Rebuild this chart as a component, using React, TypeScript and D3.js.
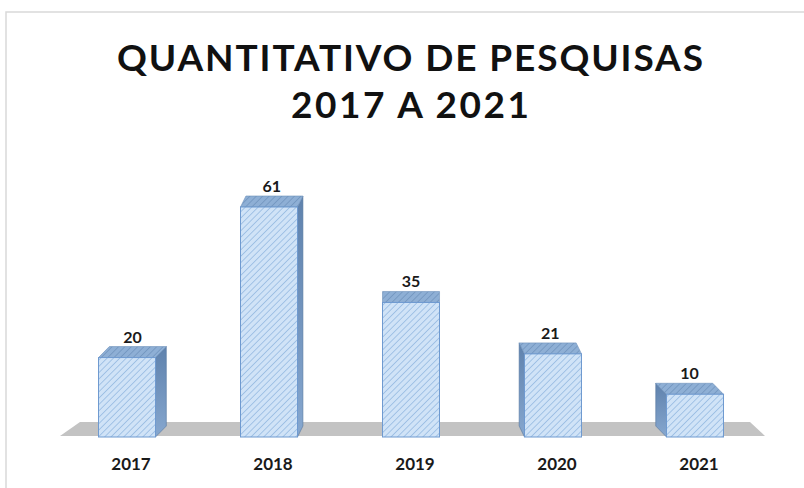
import React from 'react';
import * as d3 from 'd3';

const years: string[] = ['2017', '2018', '2019', '2020', '2021'];
const counts: number[] = [20, 61, 35, 21, 10];
const titleLines: string[] = ['QUANTITATIVO DE PESQUISAS', '2017 A 2021'];

export default function App() {
  const W = 804, H = 488;
  const x = d3.scalePoint<string>().domain(years).range([127, 695]);
  const y = d3.scaleLinear().domain([0, 61]).range([431, 207]);
  const base = 437;
  const barW = 57;
  const depthY = 11;
  const vanishX = 412;
  const font = 'Lato, "Open Sans", sans-serif';

  const floorPath = d3.line()([[80, 422], [750, 422], [765, 436], [60, 436]]) + 'Z';

  return (
    <div style={{ position: 'absolute', left: 0, top: 0 }}>
      <svg width={W} height={H} style={{ display: 'block', background: '#fff' }}>
        <defs>
          <pattern id="hatchFront" patternUnits="userSpaceOnUse" width="4.5" height="4.5" patternTransform="rotate(45)">
            <rect width="4.5" height="4.5" fill="#d0e3f7" />
            <line x1="0" y1="0" x2="0" y2="4.5" stroke="#93b8e1" strokeWidth="1.5" />
          </pattern>
          <pattern id="hatchTop" patternUnits="userSpaceOnUse" width="4.5" height="4.5" patternTransform="rotate(45)">
            <rect width="4.5" height="4.5" fill="#8eafd5" />
            <line x1="0" y1="0" x2="0" y2="4.5" stroke="#7093bd" strokeWidth="1.5" />
          </pattern>
          <linearGradient id="sideGrad" x1="0" y1="0" x2="0" y2="1">
            <stop offset="0" stopColor="#5f82ad" />
            <stop offset="1" stopColor="#86a7cf" />
          </linearGradient>
        </defs>
        <rect x={6} y={12} width={900} height={600} fill="none" stroke="#d9d9d9" strokeWidth={1.5} />

        {titleLines.map((t, i) => (
          <text key={t} x={410} y={i === 0 ? 71 : 118} textAnchor="middle" fontFamily={font}
            fontWeight={700} fontSize={37} fill="#111"
            textLength={i === 0 ? 586 : 238} lengthAdjust="spacing">{t}</text>
        ))}

        <path d={floorPath} fill="#c3c3c3" />

        {years.map((yr, i) => {
          const cx = x(yr) as number;
          const x0 = cx - barW / 2, x1 = cx + barW / 2;
          const top = y(counts[i]);
          const dx = (vanishX - cx) * 0.038;
          const dy = depthY;
          const side = dx >= 0
            ? [[x1, top], [x1 + dx, top - dy], [x1 + dx, base - dy], [x1, base]]
            : [[x0, top], [x0 + dx, top - dy], [x0 + dx, base - dy], [x0, base]];
          const topFace = [[x0, top], [x1, top], [x1 + dx, top - dy], [x0 + dx, top - dy]];
          const lg = d3.line();
          return (
            <g key={yr}>
              {Math.abs(dx) > 0.5 && <path d={lg(side as [number, number][]) + 'Z'} fill="url(#sideGrad)" stroke="#5577a0" strokeWidth={0.6} />}
              <path d={lg(topFace as [number, number][]) + 'Z'} fill="url(#hatchTop)" stroke="#6d90bb" strokeWidth={0.6} />
              <rect x={x0} y={top} width={barW} height={base - top} fill="url(#hatchFront)" stroke="#6f9ad0" strokeWidth={1} />
              <text x={cx + dx / 2} y={top - dy - 4} textAnchor="middle" fontFamily={font} fontWeight={700}
                fontSize={16} fill="#1a1a1a">{counts[i]}</text>
              <text x={cx + 4} y={470} textAnchor="middle" fontFamily={font} fontWeight={700}
                fontSize={17} fill="#1a1a1a">{yr}</text>
            </g>
          );
        })}
      </svg>
    </div>
  );
}
